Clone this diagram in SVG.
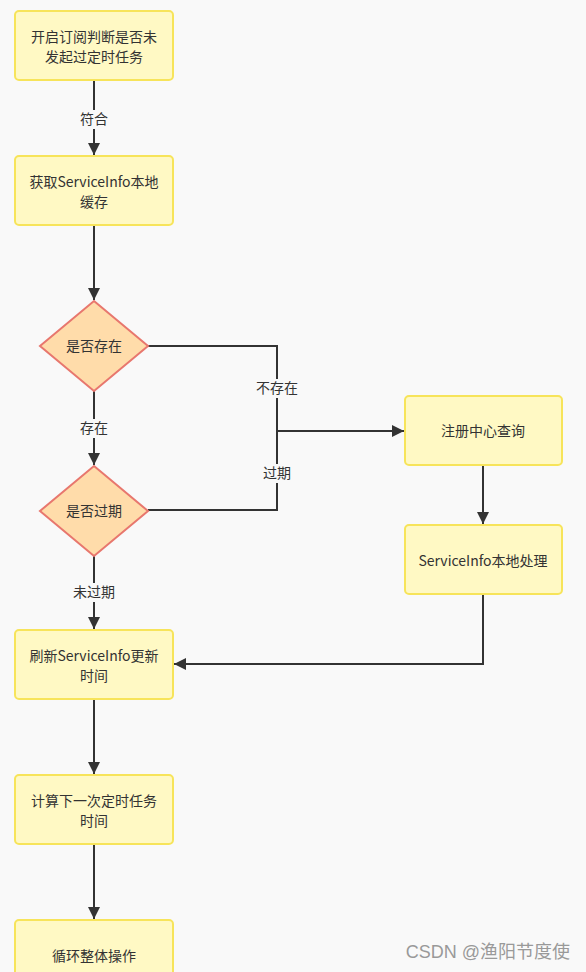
<svg xmlns="http://www.w3.org/2000/svg" width="586" height="972" viewBox="0 0 586 972">
<style>
.box{fill:#fff9c4;stroke:#f7e45a;stroke-width:2}
.dia{fill:#ffdcaa;stroke:#e8776e;stroke-width:2}
.t{font-family:"Noto Sans CJK SC","Noto Sans",sans-serif;font-size:14px;fill:#333;text-anchor:middle}
.ln{fill:none;stroke:#333;stroke-width:2}
.lb{fill:#f9f9f9}
</style>
<defs>
<marker id="ah" viewBox="0 0 10 10" refX="10" refY="5" markerWidth="12" markerHeight="12" markerUnits="userSpaceOnUse" orient="auto">
<path d="M0,0 L10,5 L0,10 z" fill="#333"/>
</marker>
</defs>
<rect width="586" height="972" fill="#f9f9f9"/>
<g id="connectors">
<path class="ln" d="M94,80 V155" marker-end="url(#ah)"/>
<path class="ln" d="M94,225 V300" marker-end="url(#ah)"/>
<path class="ln" d="M148,346 H277 V431 H404" marker-end="url(#ah)"/>
<path class="ln" d="M148,510 H277 V431"/>
<path class="ln" d="M94,390 V465" marker-end="url(#ah)"/>
<path class="ln" d="M94,555 V629" marker-end="url(#ah)"/>
<path class="ln" d="M483,465 V524" marker-end="url(#ah)"/>
<path class="ln" d="M483,594 V664 H174" marker-end="url(#ah)"/>
<path class="ln" d="M94,699 V774" marker-end="url(#ah)"/>
<path class="ln" d="M94,844 V919" marker-end="url(#ah)"/>
<rect class="lb" x="77" y="110" width="34" height="19"/>
<text class="t" x="94" y="124">符合</text>
<rect class="lb" x="254" y="379" width="46" height="19"/>
<text class="t" x="277" y="393">不存在</text>
<rect class="lb" x="77" y="419" width="34" height="19"/>
<text class="t" x="94" y="433">存在</text>
<rect class="lb" x="260" y="464" width="34" height="19"/>
<text class="t" x="277" y="478">过期</text>
<rect class="lb" x="70" y="583" width="48" height="19"/>
<text class="t" x="94" y="597">未过期</text>
</g>
<g id="n1"><rect class="box" x="15" y="11" width="158" height="69" rx="4"/><text class="t" x="94" y="42">开启订阅判断是否未</text><text class="t" x="94" y="62">发起过定时任务</text></g>
<g id="n2"><rect class="box" x="15" y="156" width="158" height="69" rx="4"/><text class="t" x="94" y="187">获取ServiceInfo本地</text><text class="t" x="94" y="207">缓存</text></g>
<g id="n3"><path class="dia" d="M94,301 L148,346 L94,391 L40,346 z"/><text class="t" x="94" y="351">是否存在</text></g>
<g id="n4"><path class="dia" d="M94,466 L148,511 L94,556 L40,511 z"/><text class="t" x="94" y="516">是否过期</text></g>
<g id="n5"><rect class="box" x="405" y="396" width="157" height="69" rx="4"/><text class="t" x="483" y="436">注册中心查询</text></g>
<g id="n6"><rect class="box" x="405" y="525" width="157" height="69" rx="4"/><text class="t" x="483" y="566">ServiceInfo本地处理</text></g>
<g id="n7"><rect class="box" x="15" y="630" width="158" height="69" rx="4"/><text class="t" x="94" y="661">刷新ServiceInfo更新</text><text class="t" x="94" y="681">时间</text></g>
<g id="n8"><rect class="box" x="15" y="775" width="158" height="69" rx="4"/><text class="t" x="94" y="806">计算下一次定时任务</text><text class="t" x="94" y="826">时间</text></g>
<g id="n9"><rect class="box" x="15" y="920" width="158" height="69" rx="4"/><text class="t" x="94" y="961">循环整体操作</text></g>
<text x="570" y="958" style="font-family:'Liberation Sans','Noto Sans CJK SC',sans-serif;font-size:18px;fill:#999;text-anchor:end">CSDN @渔阳节度使</text>
</svg>
